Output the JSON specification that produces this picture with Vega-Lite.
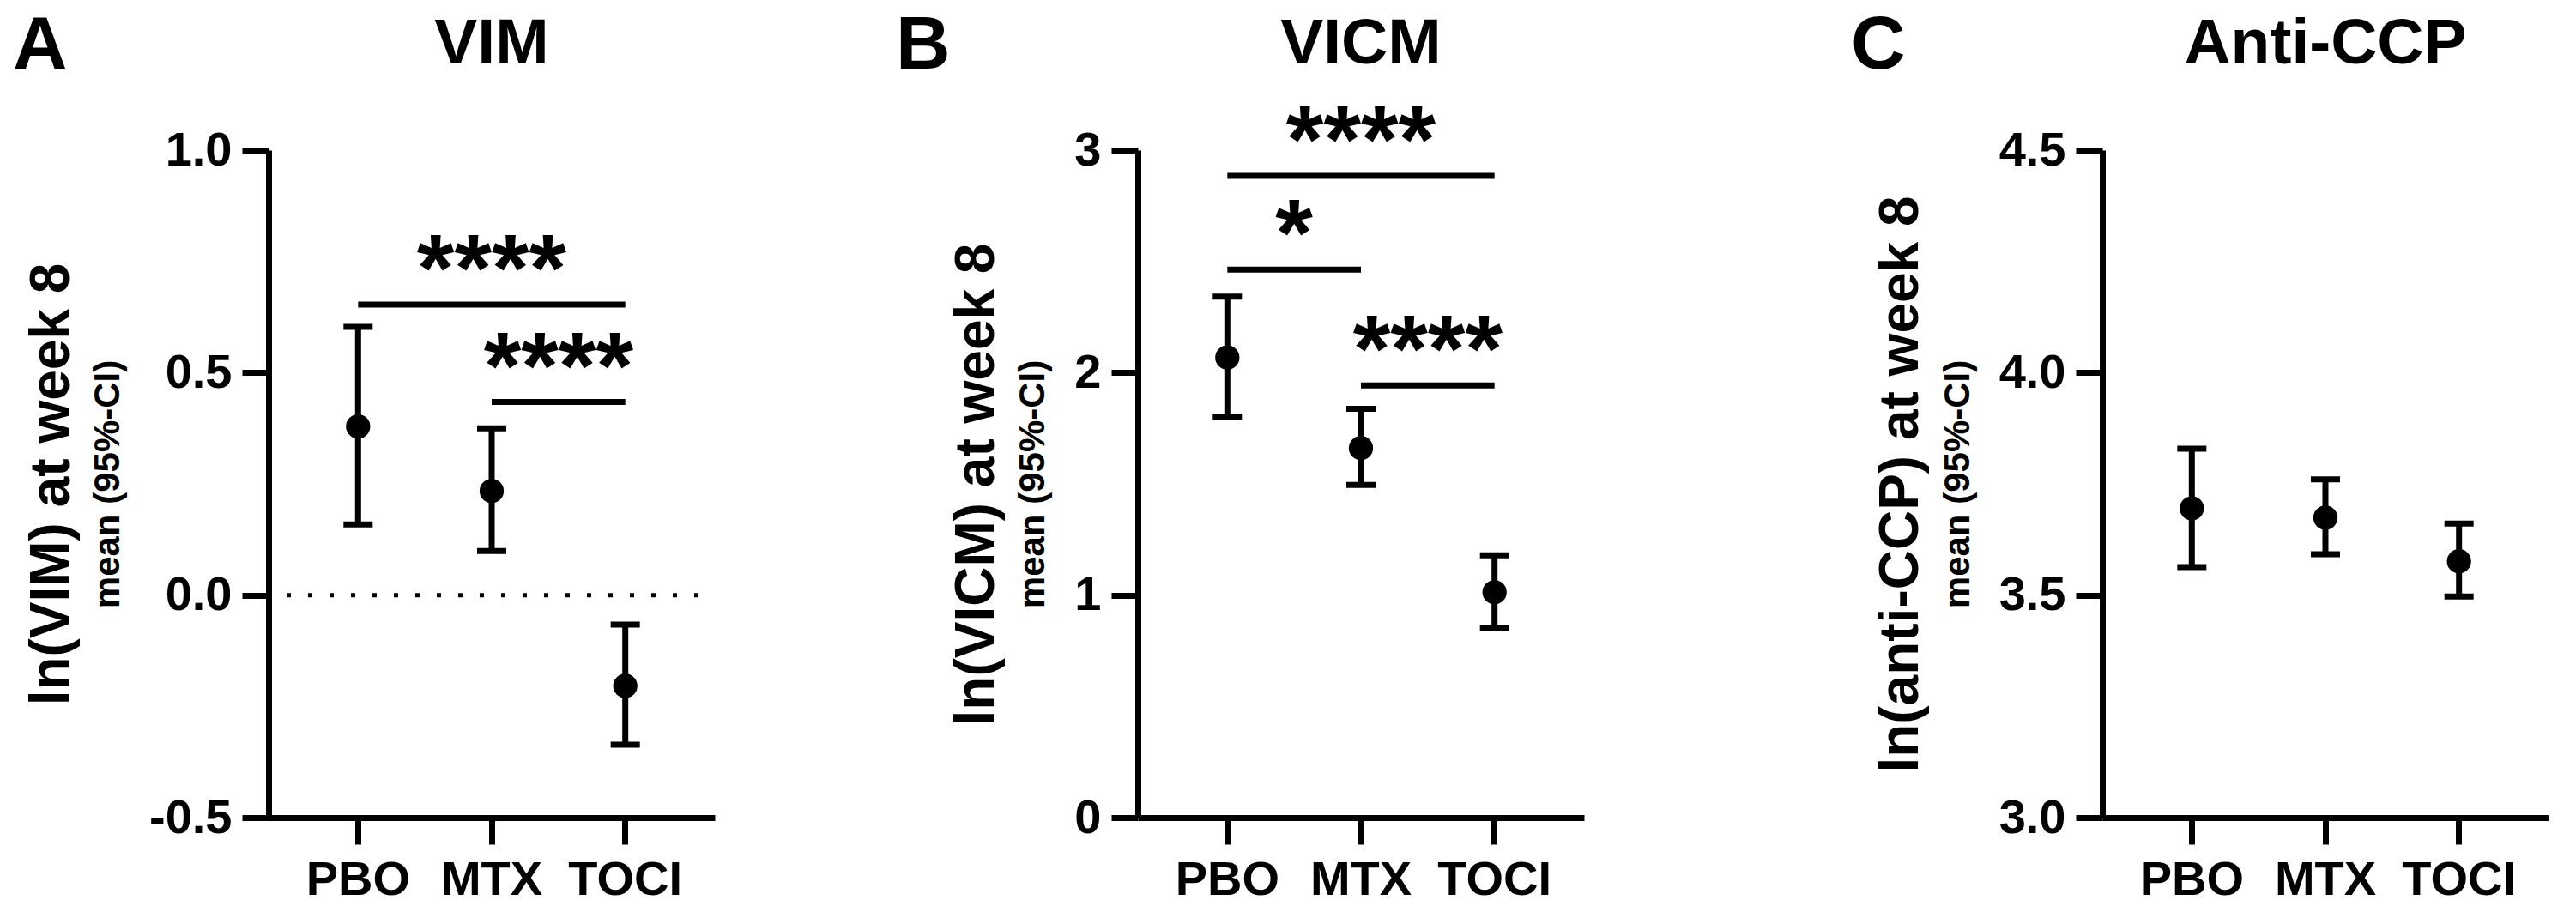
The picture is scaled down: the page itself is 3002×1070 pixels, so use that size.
{
  "$schema": "https://vega.github.io/schema/vega-lite/v6.json",
  "background": "white",
  "padding": {"left": 15, "top": 10, "right": 0, "bottom": 0},
  "config": {
    "font": "Liberation Sans",
    "view": {"stroke": null},
    "axis": {"grid": false, "domainColor": "black", "tickColor": "black", "labelColor": "black", "titleColor": "black", "labelFontWeight": "bold", "titleFontWeight": "bold", "labelFontSize": 56, "domainWidth": 7, "tickWidth": 7, "tickSize": 31, "labelFlush": false, "labelOverlap": false, "labelBound": false},
    "axisX": {"labelAngle": 0, "labelPadding": 14},
    "title": {"color": "black", "fontWeight": "bold"}
  },
  "datasets": {
    "ptsA": [{"group": "PBO", "mean": 0.379, "lo": 0.159, "hi": 0.603}, {"group": "MTX", "mean": 0.234, "lo": 0.099, "hi": 0.375}, {"group": "TOCI", "mean": -0.204, "lo": -0.336, "hi": -0.066}],
    "ptsB": [{"group": "PBO", "mean": 2.068, "lo": 1.803, "hi": 2.342}, {"group": "MTX", "mean": 1.661, "lo": 1.495, "hi": 1.837}, {"group": "TOCI", "mean": 1.013, "lo": 0.85, "hi": 1.179}],
    "ptsC": [{"group": "PBO", "mean": 3.695, "lo": 3.563, "hi": 3.829}, {"group": "MTX", "mean": 3.674, "lo": 3.592, "hi": 3.76}, {"group": "TOCI", "mean": 3.576, "lo": 3.497, "hi": 3.661}],
    "sigA": [{"from": "PBO", "to": "TOCI", "y": 0.653, "label": "****", "at": "MTX", "place": "on"}, {"from": "MTX", "to": "TOCI", "y": 0.434, "label": "****", "at": "MTX", "place": "between"}],
    "sigB": [{"from": "PBO", "to": "TOCI", "y": 2.884, "label": "****", "at": "MTX", "place": "on"}, {"from": "PBO", "to": "MTX", "y": 2.463, "label": "*", "at": "PBO", "place": "between"}, {"from": "MTX", "to": "TOCI", "y": 1.942, "label": "****", "at": "MTX", "place": "between"}],
    "zeroA": [{"ref": 0}]
  },
  "spacing": 311,
  "hconcat": [
    {
      "spacing": 208,
      "hconcat": [
        {
          "title": {"text": "A", "anchor": "start", "frame": "bounds", "fontSize": 88, "baseline": "alphabetic", "offset": 0, "dx": -13, "dy": 154},
          "vconcat": [
            {
              "title": {"text": "VIM", "fontSize": 75, "anchor": "middle", "frame": "group", "offset": -2, "baseline": "alphabetic"},
              "width": 520,
              "height": 778,
              "resolve": {"axis": {"y": "independent"}},
              "layer": [
                {"data": {"name": "zeroA"}, "mark": {"type": "rule", "strokeWidth": 5, "strokeDash": [5, 20], "strokeDashOffset": 6, "color": "black"},
                 "encoding": {"y": {"field": "ref", "type": "quantitative", "axis": null}}},
                {"data": {"name": "ptsA"}, "mark": {"type": "rule", "strokeWidth": 7, "color": "black"},
                 "encoding": {
                   "x": {"field": "group", "type": "nominal", "title": null, "scale": {"type": "band", "domain": ["PBO", "MTX", "TOCI"], "paddingInner": 0, "paddingOuter": 0.17}},
                   "y": {"field": "lo", "type": "quantitative", "scale": {"domain": [-0.5, 1.0], "nice": false, "zero": false},
                         "axis": {"orient": "left", "values": [-0.5, 0, 0.5, 1], "labelExpr": "replace(format(datum.value, '.1f'), '\u2212', '-')", "title": "mean (95%-CI)", "titleFontSize": 42, "titlePadding": 26, "labelPadding": 12}},
                   "y2": {"field": "hi"}}},
                {"data": {"name": "ptsA"}, "mark": {"type": "tick", "size": 34, "thickness": 7, "color": "black", "opacity": 1},
                 "encoding": {"x": {"field": "group", "type": "nominal", "title": null}, "y": {"field": "lo", "type": "quantitative", "axis": null}}},
                {"data": {"name": "ptsA"}, "mark": {"type": "tick", "size": 34, "thickness": 7, "color": "black", "opacity": 1},
                 "encoding": {"x": {"field": "group", "type": "nominal", "title": null}, "y": {"field": "hi", "type": "quantitative", "axis": null}}},
                {"data": {"name": "ptsA"}, "mark": {"type": "point", "filled": true, "size": 800, "color": "black", "opacity": 1},
                 "encoding": {"x": {"field": "group", "type": "nominal", "title": null},
                   "y": {"field": "mean", "type": "quantitative", "axis": {"orient": "left", "title": "ln(VIM) at week 8", "titleFontSize": 64, "titlePadding": 221, "labels": false, "ticks": false, "domain": false}}}},
                {"data": {"name": "sigA"}, "mark": {"type": "rule", "strokeWidth": 7, "color": "black"},
                 "encoding": {"x": {"field": "from", "type": "nominal", "title": null}, "x2": {"field": "to"}, "y": {"field": "y", "type": "quantitative", "axis": null}}},
                {"data": {"name": "sigA"}, "transform": [{"filter": "datum.place === 'on'"}], "mark": {"type": "text", "fontSize": 112, "fontWeight": "bold", "align": "center", "baseline": "alphabetic", "dy": -4, "color": "black"},
                 "encoding": {"x": {"field": "at", "type": "nominal", "title": null, "bandPosition": 0.5}, "y": {"field": "y", "type": "quantitative", "axis": null}, "text": {"field": "label"}}},
                {"data": {"name": "sigA"}, "transform": [{"filter": "datum.place === 'between'"}], "mark": {"type": "text", "fontSize": 112, "fontWeight": "bold", "align": "center", "baseline": "alphabetic", "dy": -4, "color": "black"},
                 "encoding": {"x": {"field": "at", "type": "nominal", "title": null, "bandPosition": 1}, "y": {"field": "y", "type": "quantitative", "axis": null}, "text": {"field": "label"}}}
              ]
            }
          ]
        },
        {
          "title": {"text": "B", "anchor": "start", "frame": "bounds", "fontSize": 88, "baseline": "alphabetic", "offset": 0, "dx": -62, "dy": 154},
          "vconcat": [
            {
              "title": {"text": "VICM", "fontSize": 75, "anchor": "middle", "frame": "group", "offset": -38, "baseline": "alphabetic"},
              "width": 520,
              "height": 778,
              "resolve": {"axis": {"y": "independent"}},
              "layer": [
                {"data": {"name": "ptsB"}, "mark": {"type": "rule", "strokeWidth": 7, "color": "black"},
                 "encoding": {
                   "x": {"field": "group", "type": "nominal", "title": null, "scale": {"type": "band", "domain": ["PBO", "MTX", "TOCI"], "paddingInner": 0, "paddingOuter": 0.17}},
                   "y": {"field": "lo", "type": "quantitative", "scale": {"domain": [0, 3], "nice": false, "zero": false},
                         "axis": {"orient": "left", "values": [0, 1, 2, 3], "format": "d", "title": "mean (95%-CI)", "titleFontSize": 42, "titlePadding": 26, "labelPadding": 12}},
                   "y2": {"field": "hi"}}},
                {"data": {"name": "ptsB"}, "mark": {"type": "tick", "size": 34, "thickness": 7, "color": "black", "opacity": 1},
                 "encoding": {"x": {"field": "group", "type": "nominal", "title": null}, "y": {"field": "lo", "type": "quantitative", "axis": null}}},
                {"data": {"name": "ptsB"}, "mark": {"type": "tick", "size": 34, "thickness": 7, "color": "black", "opacity": 1},
                 "encoding": {"x": {"field": "group", "type": "nominal", "title": null}, "y": {"field": "hi", "type": "quantitative", "axis": null}}},
                {"data": {"name": "ptsB"}, "mark": {"type": "point", "filled": true, "size": 800, "color": "black", "opacity": 1},
                 "encoding": {"x": {"field": "group", "type": "nominal", "title": null},
                   "y": {"field": "mean", "type": "quantitative", "axis": {"orient": "left", "title": "ln(VICM) at week 8", "titleFontSize": 64, "titlePadding": 156, "labels": false, "ticks": false, "domain": false}}}},
                {"data": {"name": "sigB"}, "mark": {"type": "rule", "strokeWidth": 7, "color": "black"},
                 "encoding": {"x": {"field": "from", "type": "nominal", "title": null}, "x2": {"field": "to"}, "y": {"field": "y", "type": "quantitative", "axis": null}}},
                {"data": {"name": "sigB"}, "transform": [{"filter": "datum.place === 'on'"}], "mark": {"type": "text", "fontSize": 112, "fontWeight": "bold", "align": "center", "baseline": "alphabetic", "dy": -4, "color": "black"},
                 "encoding": {"x": {"field": "at", "type": "nominal", "title": null, "bandPosition": 0.5}, "y": {"field": "y", "type": "quantitative", "axis": null}, "text": {"field": "label"}}},
                {"data": {"name": "sigB"}, "transform": [{"filter": "datum.place === 'between'"}], "mark": {"type": "text", "fontSize": 112, "fontWeight": "bold", "align": "center", "baseline": "alphabetic", "dy": -4, "color": "black"},
                 "encoding": {"x": {"field": "at", "type": "nominal", "title": null, "bandPosition": 1}, "y": {"field": "y", "type": "quantitative", "axis": null}, "text": {"field": "label"}}}
              ]
            }
          ]
        }
      ]
    },
    {
      "title": {"text": "C", "anchor": "start", "frame": "bounds", "fontSize": 88, "baseline": "alphabetic", "offset": 0, "dx": -26, "dy": 154},
      "vconcat": [
        {
          "title": {"text": "Anti-CCP", "fontSize": 75, "anchor": "middle", "frame": "group", "offset": -2, "baseline": "alphabetic"},
          "width": 520,
          "height": 778,
          "resolve": {"axis": {"y": "independent"}},
          "layer": [
            {"data": {"name": "ptsC"}, "mark": {"type": "rule", "strokeWidth": 7, "color": "black"},
             "encoding": {
               "x": {"field": "group", "type": "nominal", "title": null, "scale": {"type": "band", "domain": ["PBO", "MTX", "TOCI"], "paddingInner": 0, "paddingOuter": 0.17}},
               "y": {"field": "lo", "type": "quantitative", "scale": {"domain": [3, 4.5], "nice": false, "zero": false},
                     "axis": {"orient": "left", "values": [3, 3.5, 4, 4.5], "format": ".1f", "title": "mean (95%-CI)", "titleFontSize": 42, "titlePadding": 26, "labelPadding": 12}},
               "y2": {"field": "hi"}}},
            {"data": {"name": "ptsC"}, "mark": {"type": "tick", "size": 34, "thickness": 7, "color": "black", "opacity": 1},
             "encoding": {"x": {"field": "group", "type": "nominal", "title": null}, "y": {"field": "lo", "type": "quantitative", "axis": null}}},
            {"data": {"name": "ptsC"}, "mark": {"type": "tick", "size": 34, "thickness": 7, "color": "black", "opacity": 1},
             "encoding": {"x": {"field": "group", "type": "nominal", "title": null}, "y": {"field": "hi", "type": "quantitative", "axis": null}}},
            {"data": {"name": "ptsC"}, "mark": {"type": "point", "filled": true, "size": 800, "color": "black", "opacity": 1},
             "encoding": {"x": {"field": "group", "type": "nominal", "title": null},
               "y": {"field": "mean", "type": "quantitative", "axis": {"orient": "left", "title": "ln(anti-CCP) at week 8", "titleFontSize": 64, "titlePadding": 203, "labels": false, "ticks": false, "domain": false}}}}
          ]
        }
      ]
    }
  ]
}
